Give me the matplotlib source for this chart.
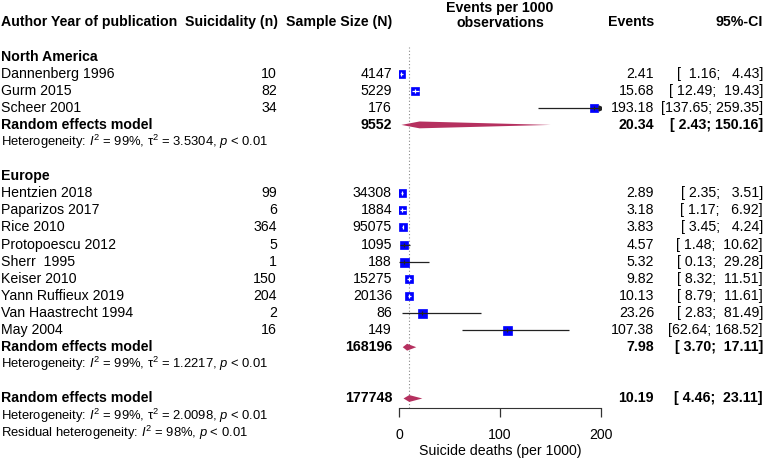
import matplotlib

matplotlib.use("Agg")
import matplotlib.pyplot as plt
import matplotlib.transforms as mtransforms

plt.rcParams["font.family"] = ["Liberation Sans", "DejaVu Sans"]
plt.rcParams["mathtext.fontset"] = "custom"
plt.rcParams["mathtext.rm"] = "Liberation Sans"
plt.rcParams["mathtext.it"] = "Liberation Sans:italic"
plt.rcParams["mathtext.bf"] = "Liberation Sans:bold"

# --- data ------------------------------------------------------------------
na_studies = ["Dannenberg 1996", "Gurm 2015", "Scheer 2001"]
na_n = [10, 82, 34]
na_N = [4147, 5229, 176]
na_est = [2.41, 15.68, 193.18]
na_lo = [1.16, 12.49, 137.65]
na_hi = [4.43, 19.43, 259.35]
na_re = [20.34, 2.43, 150.16]
na_total = 9552
na_het = r"Heterogeneity: $\mathit{I}^2$ = 99%, τ$^2$ = 3.5304, $\mathit{p}$ < 0.01"

eu_studies = ["Hentzien 2018", "Paparizos 2017", "Rice 2010", "Protopoescu 2012",
              "Sherr  1995", "Keiser 2010", "Yann Ruffieux 2019",
              "Van Haastrecht 1994", "May 2004"]
eu_n = [99, 6, 364, 5, 1, 150, 204, 2, 16]
eu_N = [34308, 1884, 95075, 1095, 188, 15275, 20136, 86, 149]
eu_est = [2.89, 3.18, 3.83, 4.57, 5.32, 9.82, 10.13, 23.26, 107.38]
eu_lo = [2.35, 1.17, 3.45, 1.48, 0.13, 8.32, 8.79, 2.83, 62.64]
eu_hi = [3.51, 6.92, 4.24, 10.62, 29.28, 11.51, 11.61, 81.49, 168.52]
eu_re = [7.98, 3.70, 17.11]
eu_total = 168196
eu_het = r"Heterogeneity: $\mathit{I}^2$ = 99%, τ$^2$ = 1.2217, $\mathit{p}$ < 0.01"

all_re = [10.19, 4.46, 23.11]
all_total = 177748
all_het = r"Heterogeneity: $\mathit{I}^2$ = 99%, τ$^2$ = 2.0098, $\mathit{p}$ < 0.01"
resid_het = r"Residual heterogeneity: $\mathit{I}^2$ = 98%, $\mathit{p}$ < 0.01"

x_ticks = [0, 100, 200]

# box sizes (pixels), roughly the study weights as drawn
na_box = [8, 8, 8.5]
eu_box = [7.5, 8, 7.5, 8.5, 9, 7.5, 7.5, 9, 9]

# --- layout ------------------------------------------------------------------
W, H = 764, 459
BLUE = "#0000FF"
DIAMOND = "#B5305F"
FS = 10.2
FS_SMALL = 9.4

fig = plt.figure(figsize=(W / 100, H / 100), dpi=100)
ax = fig.add_axes([399 / W, 1 - 408 / H, 202 / W, 361 / H])
ax.set_xlim(0, 200)
ax.set_ylim(20.556, -0.556)
for s in ["top", "right", "left"]:
    ax.spines[s].set_visible(False)
ax.spines["bottom"].set_bounds(0, 200)
ax.spines["bottom"].set_color("#333333")
ax.set_yticks([])
ax.set_xticks(x_ticks)
ax.tick_params(axis="x", length=6.5, width=0.9, color="#333333", labelsize=FS, pad=8)
ax.set_xlabel("Suicide deaths (per 1000)", fontsize=FS, labelpad=1.5)

tr = mtransforms.blended_transform_factory(fig.transFigure, ax.transData)


def col_text(xpx, y, s, ha="right", bold=False, size=FS):
    ax.text(xpx / W, y, s, transform=tr, ha=ha, va="center", fontsize=size,
            fontweight="bold" if bold else "normal", clip_on=False)


# header
hy = -2.0
col_text(1, hy, "Author Year of publication", ha="left", bold=True)
col_text(278, hy, "Suicidality (n)", bold=True)
col_text(392, hy, "Sample Size (N)", bold=True)
ax.text(500 / W, -2.4, "Events per 1000\nobservations", transform=tr, ha="center",
        va="center", fontsize=FS, fontweight="bold", linespacing=1.05, clip_on=False)
col_text(654, hy, "Events", bold=True)
col_text(763, hy, "95%-CI", bold=True)

# reference line at the overall estimate
ax.axvline(all_re[0], color="#888888", lw=0.8, ls=(0, (1, 2)), zorder=0)

px_per_unit = 202 / 200


def draw_study(y, name, n, N, est, lo, hi, box, lo_w):
    col_text(1, y, name, ha="left")
    col_text(277, y, str(n))
    col_text(392, y, str(N))
    col_text(654, y, f"{est:.2f}")
    col_text(763, y, f"[{lo:>{lo_w}.2f}; {hi:>6.2f}]")
    ax.plot(est, y, marker="s", ms=box * 0.72, color=BLUE, mec=BLUE, mew=0.5, zorder=3)
    hw = box / 2 / px_per_unit
    inside = lo >= est - hw and hi <= est + hw
    c = "white" if inside else "#222222"
    ax.plot([lo, min(hi, 200)], [y, y], color=c, lw=0.9, zorder=4, solid_capstyle="butt")
    ax.plot(est, y, marker="|", ms=3.5, mew=0.9, color=c, zorder=4)
    if hi > 200:
        ax.plot(200, y, marker=">", ms=3.5, color="#222222", zorder=4)


def draw_summary(y, label, total, re, lo_w):
    est, lo, hi = re
    col_text(1, y, label, ha="left", bold=True)
    col_text(392, y, str(total), bold=True)
    col_text(654, y, f"{est:.2f}", bold=True)
    col_text(763, y, f"[{lo:>{lo_w}.2f}; {hi:>6.2f}]", bold=True)
    h = 0.2
    ax.fill([lo, est, hi, est], [y, y - h, y, y + h], color=DIAMOND, lw=0, zorder=3)


# North America
col_text(1, 0, "North America", ha="left", bold=True)
for i in range(len(na_studies)):
    draw_study(1 + i, na_studies[i], na_n[i], na_N[i], na_est[i], na_lo[i], na_hi[i],
               na_box[i], 6)
draw_summary(4, "Random effects model", na_total, na_re, 5)
col_text(1, 5, na_het, ha="left", size=FS_SMALL)

# Europe
col_text(1, 7, "Europe", ha="left", bold=True)
for i in range(len(eu_studies)):
    draw_study(8 + i, eu_studies[i], eu_n[i], eu_N[i], eu_est[i], eu_lo[i], eu_hi[i],
               eu_box[i], 5)
draw_summary(17, "Random effects model", eu_total, eu_re, 5)
col_text(1, 18, eu_het, ha="left", size=FS_SMALL)

# Overall
draw_summary(20, "Random effects model", all_total, all_re, 5)
col_text(1, 21, all_het, ha="left", size=FS_SMALL)
col_text(1, 22, resid_het, ha="left", size=FS_SMALL)

fig.savefig("out.png", dpi=100)
